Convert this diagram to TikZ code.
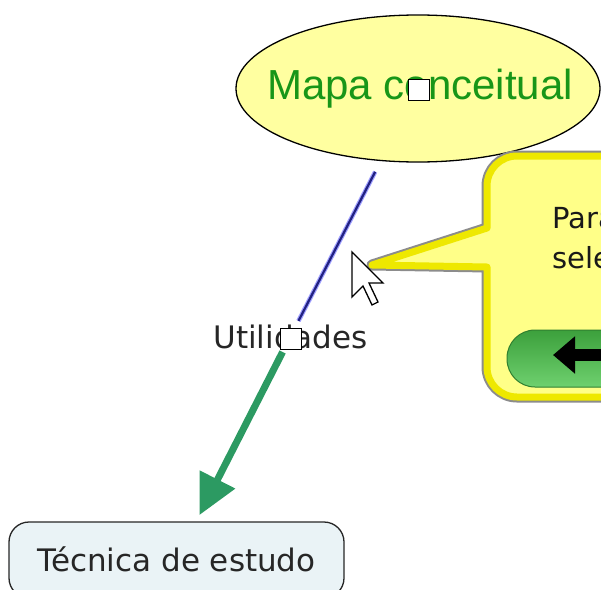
\documentclass[tikz,border=0pt]{standalone}
\usepackage{fontspec}
\setmainfont{Liberation Sans}
\newfontfamily\dvs{DejaVu Sans}
\usepackage{tikz}
\usetikzlibrary{arrows.meta, shapes.geometric}

\definecolor{mapfill}{RGB}{255,255,160}
\definecolor{mapgreen}{RGB}{24,150,24}
\definecolor{linkblue}{RGB}{34,34,130}
\definecolor{glowblue}{RGB}{160,160,255}
\definecolor{arrowgreen}{RGB}{44,154,98}
\definecolor{boxfill}{RGB}{234,243,246}
\definecolor{tipfill}{RGB}{255,255,136}
\definecolor{tipedge}{RGB}{238,232,0}
\definecolor{btnlight}{RGB}{130,245,130}
\definecolor{btndark}{RGB}{60,160,60}

\tikzset{
  concept/.style={draw=black, line width=1.3pt, fill=mapfill, ellipse,
    minimum width=364pt, minimum height=147pt, inner sep=0pt},
  conceptlabel/.style={text=mapgreen, font=\fontsize{42}{46}\selectfont},
  linkword/.style={font=\dvs\fontsize{31}{36}\selectfont, text=black!85},
  roundbox/.style={draw=black!85, line width=1.3pt, fill=boxfill, rounded corners=20pt,
    minimum width=335pt, minimum height=76pt, text height=23pt, text depth=0pt,
    font=\dvs\fontsize{31}{36}\selectfont, text=black!85},
  tiptext/.style={anchor=base west, font=\dvs\fontsize{29}{34}\selectfont, text=black!90},
  handle/.style={draw=black, line width=1.6pt, fill=white, minimum size=21pt, inner sep=0pt},
  greenarrow/.style={draw=arrowgreen, line width=7pt, shorten >=7pt,
    -{Triangle[length=40pt,width=38pt]}}
}

\begin{document}
\begin{tikzpicture}[x=1pt, y=-1pt]
\useasboundingbox (0,0) rectangle (601,589);
\clip (0,0) rectangle (601,589);

\node[concept] (mapa) at (418,88.5) {};
\node[conceptlabel] (mapatext) at (420,89) {Mapa conceitual};
\node[linkword, anchor=base] (util) at (290.5,348) {Utilidades};
\node[roundbox] (tecnica) at (176.5,560) {Técnica de estudo};

% ligacoes
\draw[glowblue, line width=4.5pt, shorten <=12pt] (mapa) -- (util);
\draw[linkblue, line width=2.2pt, shorten <=12pt] (mapa) -- (util);
\draw[greenarrow] (util) -- (tecnica);

\node[handle] (handlemapa) at (419,90) {};
\node[handle] (handleutil) at (291,339) {};

% balao de ajuda
\draw[black!45, line width=11pt, line join=round] (372,265) -- (487,228) [rounded corners=30pt] -- (487,156) -- (660,156) -- (660,397) -- (487,397) [sharp corners] -- (487,267) -- cycle;
\draw[tipedge, fill=tipfill, line width=7pt, line join=round] (372,265) -- (487,228) [rounded corners=30pt] -- (487,156) -- (660,156) -- (660,397) -- (487,397) [sharp corners] -- (487,267) -- cycle;
\node[tiptext] (ajuda1) at (549,228) {Para};
\node[tiptext] (ajuda2) at (549,268) {sele};

\shade[top color=btndark, middle color=btnlight, bottom color=btnlight!85!black, rounded corners=28pt, draw=btndark!80!black, line width=1pt] (507,330) rectangle (680,387);
\draw[black, line width=12pt, -{Triangle[length=22pt,width=36pt]}] (640,355) -- (553,355);

% cursor
\draw[black, fill=white, line width=1.3pt, line join=miter] (352,252) -- (352,297) -- (363,286) -- (372,305) -- (378,302) -- (369,283) -- (383,283) -- cycle;
\end{tikzpicture}
\end{document}
